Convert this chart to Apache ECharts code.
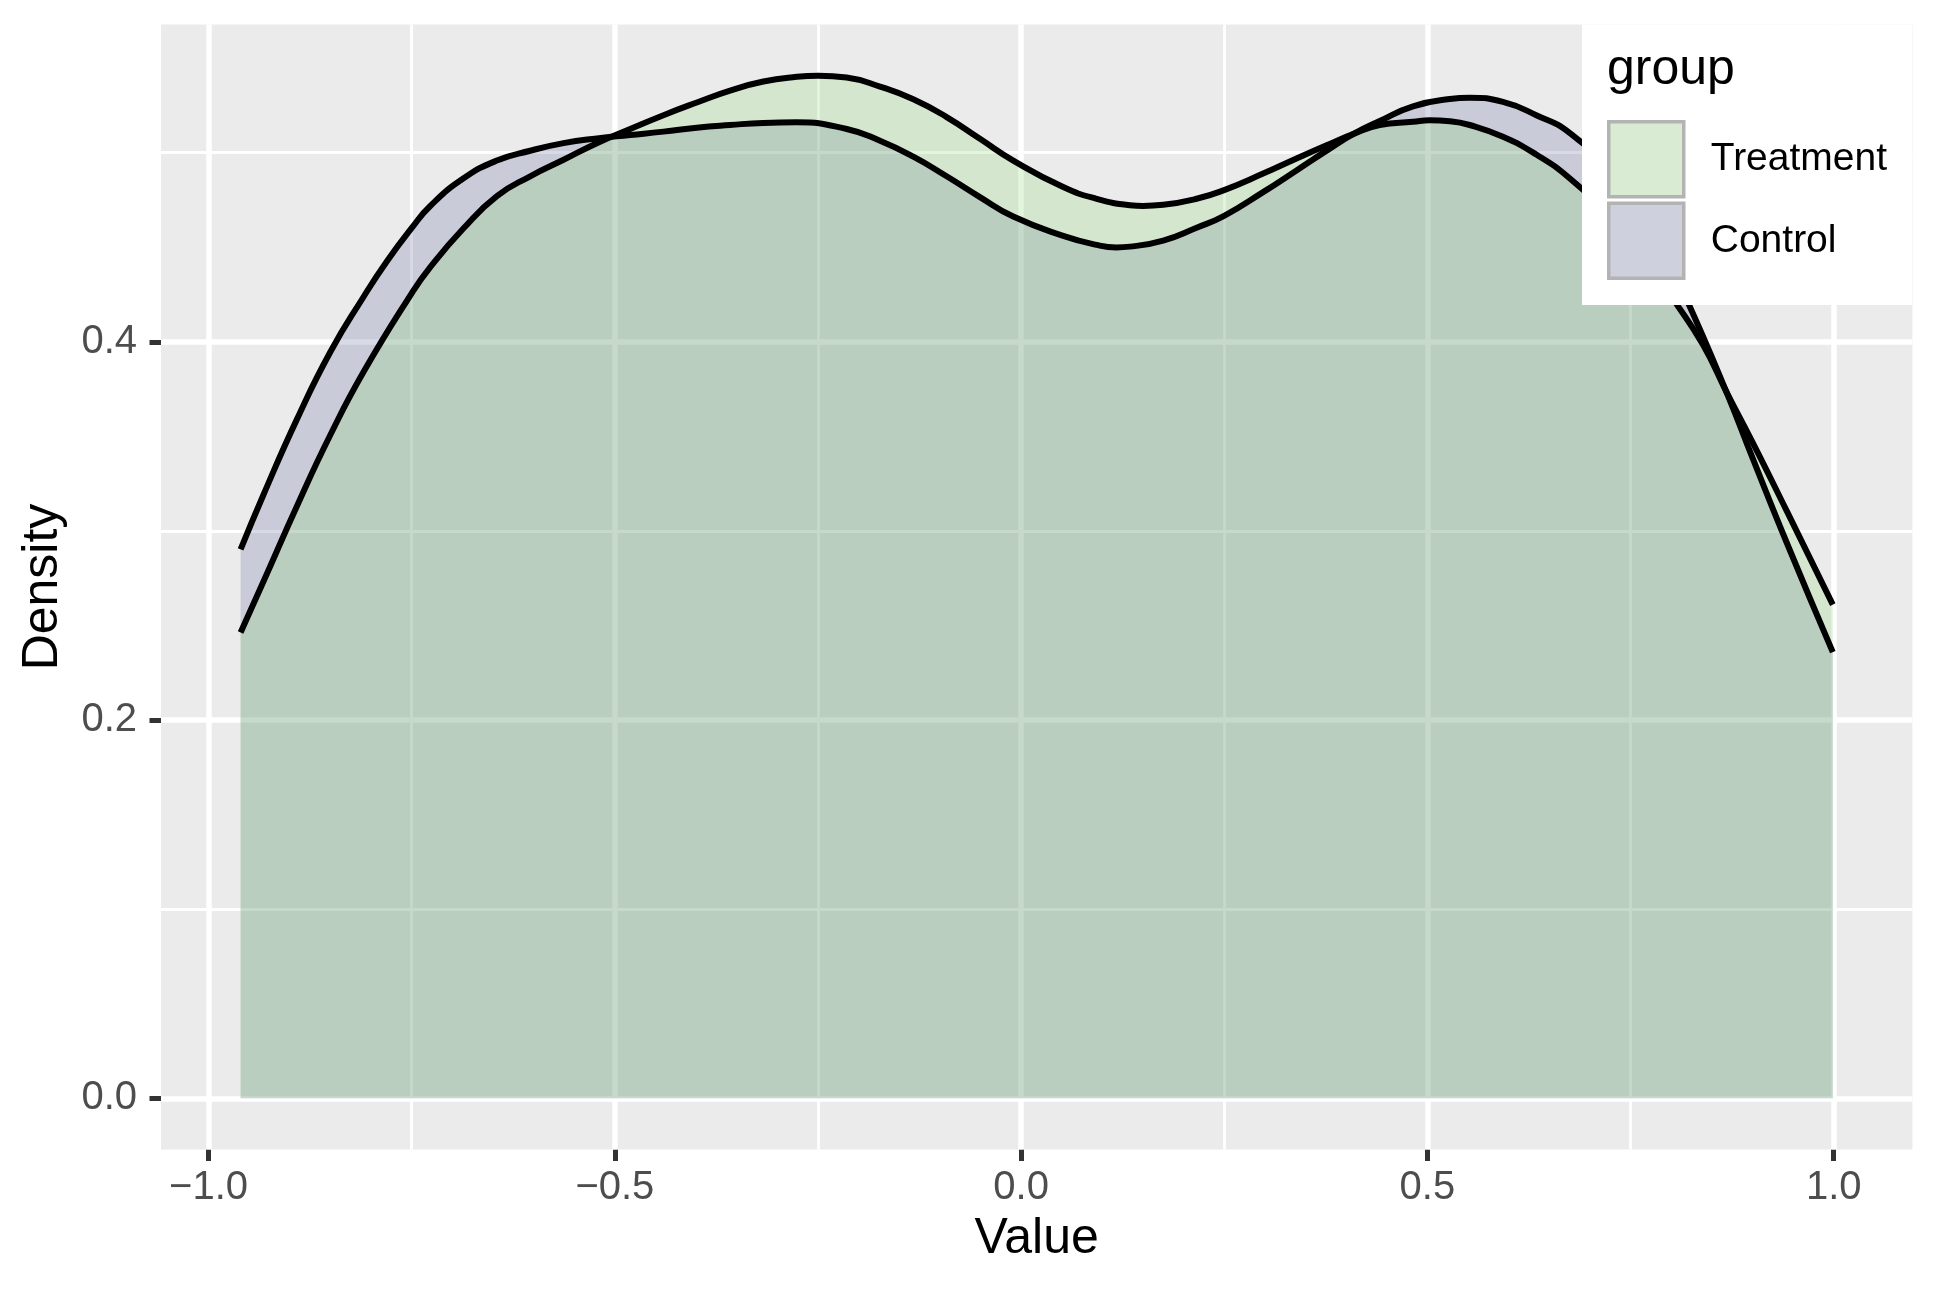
<!DOCTYPE html>
<html>
<head>
<meta charset="utf-8">
<script src="https://cdn.jsdelivr.net/npm/echarts@6/dist/echarts.min.js"></script>
<style>html,body{margin:0;padding:0;background:#fff}#c{width:1937px;height:1292px}</style>
</head>
<body>
<div id="c"></div>
<script>
// ---- data (kernel density estimates) ----
const groups = ['Treatment', 'Control'];
const treatX = [-0.9606, -0.9322, -0.8912, -0.8502, -0.8092, -0.7497, -0.7272, -0.6862, -0.6452, -0.6042,
  -0.5632, -0.5222, -0.4812, -0.4402, -0.3991, -0.3582, -0.3172, -0.2761, -0.2496, -0.2147,
  -0.1737, -0.1327, -0.0917, -0.0507, -0.0097, 0.0518, 0.0929, 0.1338, 0.1502,
  0.1748, 0.2159, 0.2498, 0.2978, 0.3389, 0.3798, 0.4085, 0.4413, 0.4823, 0.5028,
  0.5274, 0.552, 0.593, 0.634, 0.675, 0.735, 0.77, 0.8021,
  0.839, 0.8678, 0.9005, 0.9416, 0.9989];
const treatY = [0.2463, 0.2735, 0.3132, 0.3507, 0.3841, 0.4259, 0.4395, 0.4600, 0.4770, 0.4875,
  0.4962, 0.5050, 0.5125, 0.5198, 0.5265, 0.5328, 0.5376, 0.5401, 0.5407, 0.5397,
  0.5349, 0.5282, 0.5188, 0.5073, 0.4958, 0.4818, 0.4756, 0.4722, 0.4718,
  0.4724, 0.4756, 0.4802, 0.4889, 0.4969, 0.5046, 0.5098, 0.5146, 0.5163, 0.5171,
  0.5166, 0.5146, 0.5084, 0.4990, 0.4864, 0.4619, 0.4433, 0.4228,
  0.3985, 0.3737, 0.3466, 0.3111, 0.2610];
const ctrlX = [-0.9606, -0.9322, -0.8912, -0.8502, -0.8092, -0.7805, -0.7497, -0.7272, -0.6862, -0.6452,
  -0.6042, -0.5632, -0.5222, -0.4812, -0.4402, -0.3991, -0.3582, -0.3172, -0.2761,
  -0.2147, -0.1737, -0.1327, -0.0917, -0.0507, -0.0097, 0.0518, 0.0929, 0.1175,
  0.1338, 0.1748, 0.2159, 0.2498, 0.2978, 0.3389, 0.3798, 0.4085, 0.4413,
  0.4823, 0.5274, 0.552, 0.593, 0.634, 0.675, 0.74,
  0.78, 0.8186, 0.8678, 0.9005, 0.9416, 0.9989];
const ctrlY = [0.2902, 0.3194, 0.3591, 0.3946, 0.4238, 0.4426, 0.4603, 0.4718, 0.4864, 0.4958,
  0.5010, 0.5050, 0.5075, 0.5093, 0.5111, 0.5132, 0.5146, 0.5157, 0.5160,
  0.5125, 0.5063, 0.4979, 0.4875, 0.4765, 0.4662, 0.4560, 0.4512, 0.4499,
  0.4503, 0.4535, 0.4603, 0.4666, 0.4791, 0.4906, 0.5021, 0.5098, 0.5167,
  0.5245, 0.5283, 0.5290, 0.5268, 0.5198, 0.5104, 0.4844,
  0.4572, 0.4228, 0.3737, 0.3382, 0.2944, 0.2359];
const xMajor = [-1, -0.5, 0, 0.5, 1];
const xMinor = [-0.75, -0.25, 0.25, 0.75];
const yMajor = [0, 0.2, 0.4];
const yMinor = [0.1, 0.3, 0.5];

// ---- build options ----
const allX = treatX.concat(ctrlX);
const xLo = Math.min(...allX), xHi = Math.max(...allX);
const yHi = Math.max(...treatY, ...ctrlY);
const xPad = 0.05 * (xHi - xLo), yPad = 0.05 * yHi;
const fmt = v => (v < 0 ? '\u2212' : '') + Math.abs(v).toFixed(1);
const FONT = '"Liberation Sans", Arial, sans-serif';
const pairs = (xs, ys) => xs.map((x, i) => [x, ys[i]]);

const gridLines = [].concat(
  xMinor.map(v => ({ xAxis: v, lineStyle: { width: 2.8 } })),
  yMinor.map(v => ({ yAxis: v, lineStyle: { width: 2.8 } })),
  xMajor.map(v => ({ xAxis: v, lineStyle: { width: 5.5 } })),
  yMajor.map(v => ({ yAxis: v, lineStyle: { width: 5.5 } }))
);

const densitySeries = (name, xs, ys, fill) => ({
  type: 'line', name: name, data: pairs(xs, ys), smooth: 0.5,
  showSymbol: false, symbol: 'none', z: 2, silent: true,
  lineStyle: { color: '#000000', width: 6, join: 'round' },
  itemStyle: { color: '#000000' },
  areaStyle: { color: fill, opacity: 1 },
  emphasis: { disabled: true }
});

const chart = echarts.init(document.getElementById('c'), null, { renderer: 'canvas' });
chart.setOption({
  animation: false,
  backgroundColor: '#FFFFFF',
  grid: { left: 161, top: 24.5, right: 24.6, bottom: 142.5, show: true, backgroundColor: '#EBEBEB',
    borderWidth: 0, containLabel: false, outerBoundsMode: 'none' },
  xAxis: {
    type: 'value', min: xLo - xPad, max: xHi + xPad,
    axisLine: { show: false, onZero: false },
    splitLine: { show: false },
    axisTick: { show: true, customValues: xMajor, length: 11.5, lineStyle: { color: '#333333', width: 5 } },
    axisLabel: { customValues: xMajor, formatter: fmt, margin: 18, fontSize: 40, color: '#4D4D4D', fontFamily: FONT }
  },
  yAxis: {
    type: 'value', min: -yPad, max: yHi + yPad,
    axisLine: { show: false, onZero: false },
    splitLine: { show: false },
    axisTick: { show: true, customValues: yMajor, length: 11.5, lineStyle: { color: '#333333', width: 5 } },
    axisLabel: { customValues: yMajor, formatter: fmt, margin: 24, fontSize: 40, color: '#4D4D4D', fontFamily: FONT }
  },
  legend: {
    data: [
      { name: groups[0], itemStyle: { color: '#D9EBD3', borderColor: '#B3B3B3', borderWidth: 3.5 } },
      { name: groups[1], itemStyle: { color: '#CED0DD', borderColor: '#B3B3B3', borderWidth: 3.5 } }
    ],
    icon: 'rect', orient: 'vertical', left: 1582, top: 24.5, z: 10,
    padding: [95.5, 25, 25, 25], itemWidth: 75, itemHeight: 75, itemGap: 3,
    backgroundColor: '#FFFFFF', selectedMode: false,
    textStyle: { fontSize: 39, color: '#000000', fontFamily: FONT, padding: [0, 0, 0, 22] }
  },
  graphic: [
    { type: 'text', x: 1036.7, y: 1239.7, z: 100,
      style: { text: 'Value', fontSize: 50, fontFamily: FONT, fill: '#000000', align: 'center', verticalAlign: 'middle' } },
    { type: 'text', x: 43, y: 587, rotation: Math.PI / 2, z: 100,
      style: { text: 'Density', fontSize: 50, fontFamily: FONT, fill: '#000000', align: 'center', verticalAlign: 'middle' } },
    { type: 'text', x: 1607, y: 70, z: 100,
      style: { text: 'group', fontSize: 50, fontFamily: FONT, fill: '#000000', align: 'left', verticalAlign: 'middle' } }
  ],
  series: [
    { type: 'line', name: '_grid', data: [], z: 1, silent: true,
      markLine: { z: 1, silent: true, symbol: ['none', 'none'], label: { show: false }, animation: false,
        lineStyle: { color: '#FFFFFF', type: 'solid', opacity: 1 }, emphasis: { disabled: true }, data: gridLines } },
    densitySeries(groups[1], ctrlX, ctrlY, 'rgba(99,107,159,0.25)'),
    densitySeries(groups[0], treatX, treatY, 'rgba(143,215,119,0.25)')
  ]
});
</script>
</body>
</html>
